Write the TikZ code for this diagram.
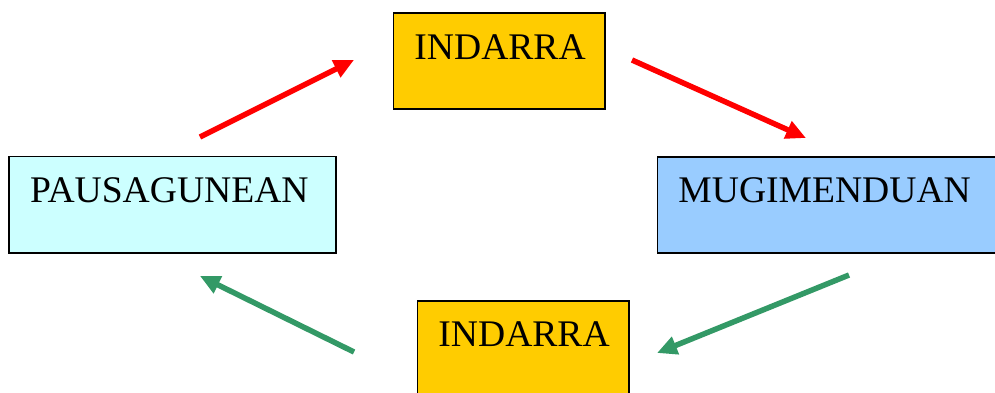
\documentclass[tikz,border=0pt]{standalone}
\usepackage{fontspec}
\setmainfont{Liberation Serif}
\usetikzlibrary{arrows.meta}
\definecolor{boxyellow}{HTML}{FFCC00}
\definecolor{boxcyan}{HTML}{CCFFFF}
\definecolor{boxblue}{HTML}{99CCFF}
\definecolor{arrred}{HTML}{FF0000}
\definecolor{arrgreen}{HTML}{339966}
\tikzset{
  stagebox/.style={draw=black, line width=1.5pt, rectangle, anchor=north west,
    inner xsep=21pt, inner ysep=0pt, text height=46pt, align=left,
    font=\fontsize{37.6}{40}\selectfont},
  flow/.style={line width=5.5pt, -{Triangle[length=20pt,width=18pt]}},
}
\begin{document}
\begin{tikzpicture}[x=1pt,y=-1pt]
\useasboundingbox (0,0) rectangle (995,392);
\clip (0,0) rectangle (995,392);
\node[stagebox, fill=boxyellow, text width=169.3pt, text depth=50pt] (top) at (392.7,12.3) {INDARRA};
\node[stagebox, fill=boxcyan, text width=284.7pt, text depth=50.6pt] (left) at (8.3,155.7) {PAUSAGUNEAN};
\node[stagebox, fill=boxblue, text width=320pt, text depth=50.3pt] (right) at (656.7,156) {MUGIMENDUAN};
\node[stagebox, fill=boxyellow, text width=169.6pt, text depth=60pt] (bottom) at (416.7,300) {INDARRA};
\coordinate (r1s) at (200,137);
\coordinate (r1e) at (354,60);
\coordinate (r2s) at (632,60);
\coordinate (r2e) at (806,138);
\coordinate (g1s) at (849,275);
\coordinate (g1e) at (657,353);
\coordinate (g2s) at (354,352);
\coordinate (g2e) at (200,276);
\draw[flow, arrred] (r1s) -- (r1e);
\draw[flow, arrred] (r2s) -- (r2e);
\draw[flow, arrgreen] (g1s) -- (g1e);
\draw[flow, arrgreen] (g2s) -- (g2e);
\end{tikzpicture}
\end{document}
